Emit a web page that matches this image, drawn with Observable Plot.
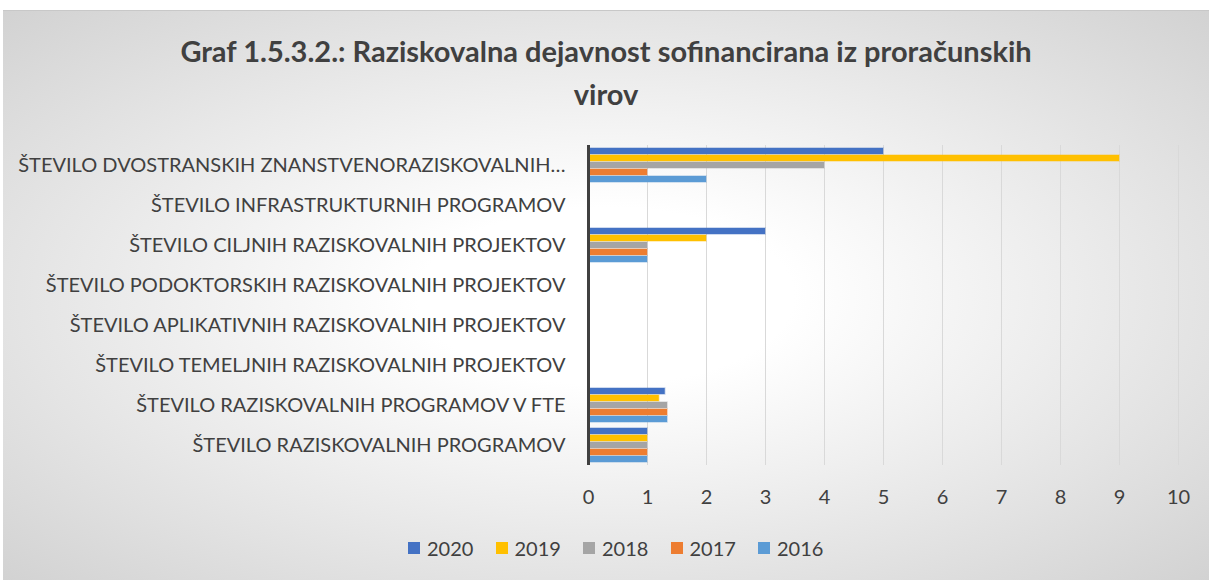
<!DOCTYPE html>
<html>
<head>
<meta charset="utf-8">
<script src="https://cdn.jsdelivr.net/npm/d3@7"></script>
<script src="https://cdn.jsdelivr.net/npm/@observablehq/plot@0.6"></script>
<style>
  html, body { margin: 0; padding: 0; background: #fff; }
  #frame {
    position: absolute; left: 3px; top: 10px; width: 1206px; height: 570px;
    background: radial-gradient(ellipse farthest-corner at 50% 50%, #ffffff 0%, #ffffff 22%, #d2d2d2 100%);
    border-top: 1px solid #c8c8c8;
    font-family: Lato, "Open Sans", sans-serif;
  }
  #title {
    position: absolute; left: 0; width: 1206px; top: 18px; text-align: center;
    font-weight: bold; font-size: 29px; line-height: 43px; color: #404040;
  }
  #chart { position: absolute; left: -3px; top: 110px; }
  #legend {
    position: absolute; top: 525px; left: 405px; display: flex; gap: 0;
    font-size: 20px; color: #404040;
  }
  .item { display: flex; align-items: center; width: 87.5px; }
  .sw { width: 12px; height: 12px; margin-right: 7px; }
</style>
</head>
<body>
<div id="frame">
  <div id="title">Graf 1.5.3.2.: Raziskovalna dejavnost sofinancirana iz proračunskih<br>virov</div>
  <div id="chart"></div>
  <div id="legend"></div>
</div>
<script>
const categories = [
  "ŠTEVILO DVOSTRANSKIH ZNANSTVENORAZISKOVALNIH…",
  "ŠTEVILO INFRASTRUKTURNIH PROGRAMOV",
  "ŠTEVILO CILJNIH RAZISKOVALNIH PROJEKTOV",
  "ŠTEVILO PODOKTORSKIH RAZISKOVALNIH PROJEKTOV",
  "ŠTEVILO APLIKATIVNIH RAZISKOVALNIH PROJEKTOV",
  "ŠTEVILO TEMELJNIH RAZISKOVALNIH PROJEKTOV",
  "ŠTEVILO RAZISKOVALNIH PROGRAMOV V FTE",
  "ŠTEVILO RAZISKOVALNIH PROGRAMOV"
];
const years = ["2020", "2019", "2018", "2017", "2016"];
const v2020 = [5, 0, 3, 0, 0, 0, 1.3, 1];
const v2019 = [9, 0, 2, 0, 0, 0, 1.2, 1];
const v2018 = [4, 0, 1, 0, 0, 0, 1.34, 1];
const v2017 = [1, 0, 1, 0, 0, 0, 1.34, 1];
const v2016 = [2, 0, 1, 0, 0, 0, 1.34, 1];
const colors = ["#4472C4", "#FFC000", "#A5A5A5", "#ED7D31", "#5B9BD5"];
const xTicks = [0, 1, 2, 3, 4, 5, 6, 7, 8, 9, 10];

const series = [v2020, v2019, v2018, v2017, v2016];
const data = [];
categories.forEach((c, i) => {
  years.forEach((y, j) => {
    data.push({category: c, year: y, value: series[j][i]});
  });
});

const chart = Plot.plot({
  width: 1209,
  height: 390,
  marginLeft: 588,
  marginRight: 31,
  marginTop: 21,
  marginBottom: 44,
  style: {background: "transparent", fontFamily: "Lato, 'Open Sans', sans-serif", color: "#404040"},
  x: {domain: [0, 10], ticks: xTicks, label: null},
  y: {domain: years, paddingInner: 0.1, paddingOuter: 0.4, axis: null},
  fy: {domain: categories, padding: 0},
  color: {domain: years, range: colors},
  marks: [
    Plot.gridX(xTicks, {stroke: "#d9d9d9", strokeOpacity: 1, strokeWidth: 1}),
    Plot.barX(data, {
      fy: "category", y: "year", x: "value", fill: "year",
      stroke: "year", strokeOpacity: 0.35, strokeWidth: 1.5
    }),
    Plot.ruleX([0], {stroke: "#404040", strokeWidth: 3}),
    Plot.axisX(xTicks, {tickSize: 0, tickPadding: 24, fontSize: 20, fill: "#404040", anchor: "bottom", label: null}),
    Plot.axisFy({anchor: "left", tickSize: 0, tickPadding: 23, fontSize: 20, fill: "#404040", label: null})
  ]
});
document.getElementById("chart").appendChild(chart);

const legend = document.getElementById("legend");
years.forEach((y, i) => {
  const it = document.createElement("div");
  it.className = "item";
  const sw = document.createElement("div");
  sw.className = "sw";
  sw.style.background = colors[i];
  it.appendChild(sw);
  const t = document.createElement("span");
  t.textContent = y;
  it.appendChild(t);
  legend.appendChild(it);
});
</script>
</body>
</html>
